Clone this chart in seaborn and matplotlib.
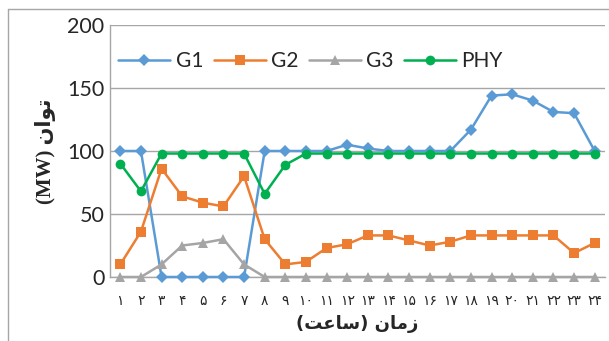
import pandas as pd
import matplotlib.pyplot as plt
import seaborn as sns
from matplotlib.lines import Line2D

# Data (hourly power, MW)
hours = list(range(1, 25))
hour_labels = ['۱', '۲', '۳', '۴', '۵', '۶', '۷', '۸', '۹', '۱۰', '۱۱', '۱۲',
               '۱۳', '۱۴', '۱۵', '۱۶', '۱۷', '۱۸', '۱۹', '۲۰', '۲۱', '۲۲', '۲۳', '۲۴']
g1 = [100, 100, 0, 0, 0, 0, 0, 100, 100, 100, 100, 105,
      102, 100, 100, 100, 100, 117, 144, 145, 140, 131, 130, 100]
g2 = [10, 36, 86, 64, 59, 56, 80, 30, 10, 12, 23, 26,
      33, 33, 29, 25, 28, 33, 33, 33, 33, 33, 19, 27]
g3 = [0, 0, 10, 25, 27, 30, 10, 0, 0, 0, 0, 0,
      0, 0, 0, 0, 0, 0, 0, 0, 0, 0, 0, 0]
phy = [90, 68, 98, 98, 98, 98, 98, 66, 89, 98, 98, 98,
       98, 98, 98, 98, 98, 98, 98, 98, 98, 98, 98, 98]

series_names = ['G1', 'G2', 'G3', 'PHY']
colors = ['#5B9BD5', '#ED7D31', '#A5A5A5', '#00B050']
markers = ['D', 's', '^', 'o']
msizes = [6, 7, 7, 7]

# Persian labels in visual (presentation-form) order
xlabel_txt = '(\uFE96\uFECB\uFE8E\uFEB3) \uFEE5\uFE8E\uFEE3\uFEAF'
ylabel_txt = '(MW) \uFEE5\uFE8D\uFEEE\uFE97'

df = pd.DataFrame({'hour': hours, 'G1': g1, 'G2': g2, 'G3': g3, 'PHY': phy})

sns.set_style('white')
plt.rcParams['font.family'] = ['Lato', 'DejaVu Sans']

fig = plt.figure(figsize=(6.09, 3.41), dpi=100)
ax = fig.add_axes([110 / 609, 1 - 277 / 341, 495 / 609, 252 / 341])

for i, (name, c, m, ms) in enumerate(zip(series_names, colors, markers, msizes)):
    sns.lineplot(data=df, x='hour', y=name, ax=ax, color=c, marker=m,
                 markersize=ms, markeredgewidth=0, linewidth=1.8, label=name,
                 clip_on=False, zorder=3 + i)

ax.set_xlim(0.5, 24.5)
ax.set_ylim(0, 200)
ax.set_yticks([0, 50, 100, 150, 200])
ax.yaxis.grid(True, color='#A6A6A6', linewidth=1)
ax.set_axisbelow(True)
ax.set_xticks(hours)
ax.set_xticklabels(hour_labels, fontsize=10, family=['DejaVu Sans'])
ax.set_xticks([h + 0.5 for h in range(0, 25)], minor=True)
ax.tick_params(axis='x', which='major', length=0, pad=12)
ax.tick_params(axis='x', which='minor', length=5, color='#A6A6A6', width=1, direction='out')
ax.tick_params(axis='y', labelsize=15.5, length=0, pad=4)
for s in ['top', 'right']:
    ax.spines[s].set_visible(False)
for s in ['left', 'bottom']:
    ax.spines[s].set_color('#A6A6A6')
    ax.spines[s].set_linewidth(1)
    ax.spines[s].set_zorder(1)

ax.set_xlabel(xlabel_txt, fontsize=13, fontweight='bold', family=['DejaVu Sans'], labelpad=5)
ax.set_ylabel(ylabel_txt, fontsize=15, fontweight='bold',
              family=['Liberation Serif', 'DejaVu Sans'], labelpad=8)

ax.legend(loc='upper left', bbox_to_anchor=(0.0, 0.93), ncol=4, frameon=False,
          fontsize=15, handlelength=2.5, handletextpad=0.25, columnspacing=0.5,
          borderaxespad=0)

# outer chart border
fig.add_artist(Line2D([8 / 609, 8 / 609], [0, 1 - 9 / 341], color='#A6A6A6', lw=1))
fig.add_artist(Line2D([8 / 609, 1], [1 - 9 / 341, 1 - 9 / 341], color='#A6A6A6', lw=1))

plt.savefig('out.png', dpi=100)
plt.close()
